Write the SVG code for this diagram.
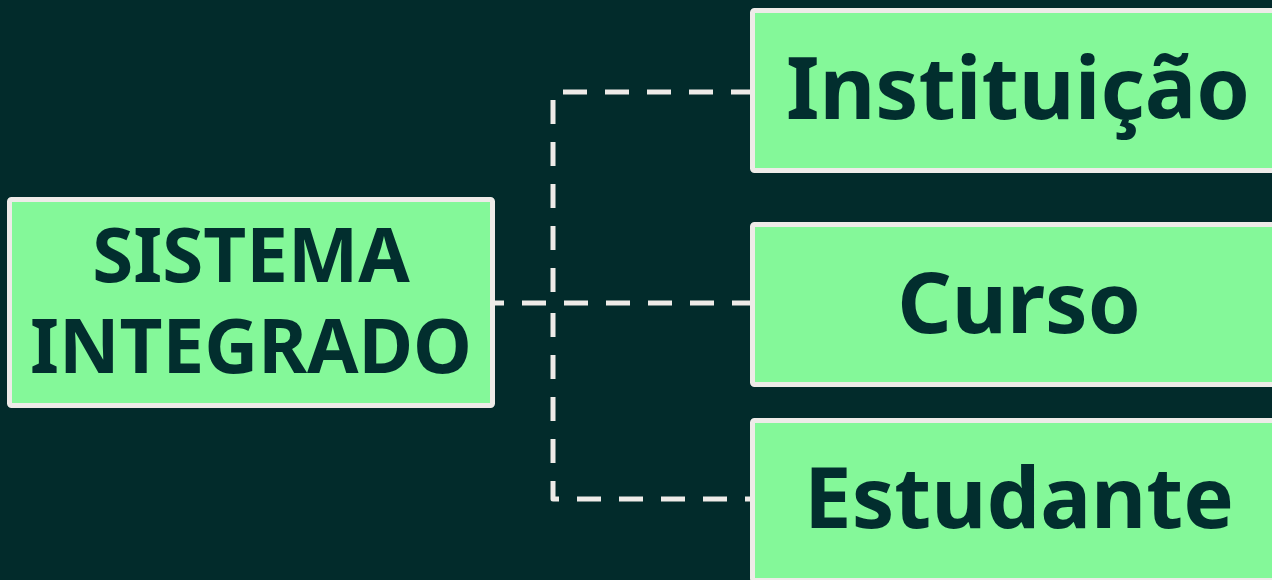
<svg xmlns="http://www.w3.org/2000/svg" width="1272" height="580" viewBox="0 0 1272 580">
<style>
.box{fill:#84f899;stroke:#eeebe8;stroke-width:5}
.lbl{font-family:"Noto Sans","Open Sans","DejaVu Sans",sans-serif;font-weight:700;fill:#022e2e;text-anchor:middle}
.con{fill:none;stroke:#eeebe8;stroke-width:5;stroke-dasharray:24 18;stroke-linejoin:round}
</style>
<rect width="1272" height="580" fill="#022b2b"/>
<g id="connectors">
<path class="con" d="M493,303 H752" stroke-dashoffset="13"/>
<path class="con" d="M752,92 H553 V303" stroke-dashoffset="3"/>
<path class="con" d="M752,499 H553 V303" stroke-dashoffset="17"/>
</g>
<g id="sistema">
<rect class="box" x="9.5" y="199.5" width="483" height="206" rx="2"/>
<text class="lbl" x="251" y="282" font-size="74.5">SISTEMA</text>
<text class="lbl" x="251" y="373" font-size="74.5">INTEGRADO</text>
</g>
<g id="instituicao">
<rect class="box" x="752.5" y="10.5" width="528" height="160" rx="2"/>
<text class="lbl" x="1018" y="119" font-size="86">Instituição</text>
</g>
<g id="curso">
<rect class="box" x="752.5" y="224.5" width="528" height="160" rx="2"/>
<text class="lbl" x="1019" y="333" font-size="85">Curso</text>
</g>
<g id="estudante">
<rect class="box" x="752.5" y="420.5" width="528" height="160" rx="2"/>
<text class="lbl" x="1019" y="528" font-size="85">Estudante</text>
</g>
</svg>
